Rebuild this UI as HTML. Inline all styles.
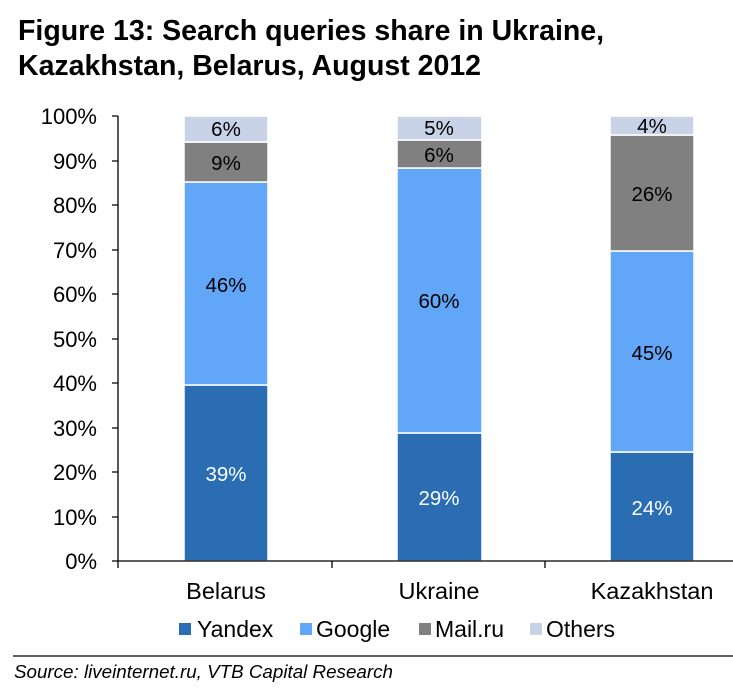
<!DOCTYPE html><html><head><style>body{margin:0;background:#fff;width:733px;height:689px;overflow:hidden;font-family:"Liberation Sans",Arial,sans-serif}</style></head><body>
<svg width="733" height="689" xmlns="http://www.w3.org/2000/svg" font-family="Liberation Sans, Arial, sans-serif">
<text x="18" y="40" font-size="28.5" font-weight="bold" fill="#000">Figure 13: Search queries share in Ukraine,</text>
<text x="18" y="75" font-size="28.5" font-weight="bold" fill="#000">Kazakhstan, Belarus, August 2012</text>
<g font-size="22" fill="#000" text-anchor="end">
<text x="97" y="124">100%</text><text x="97" y="169">90%</text><text x="97" y="213">80%</text><text x="97" y="258">70%</text><text x="97" y="302">60%</text><text x="97" y="347">50%</text><text x="97" y="391">40%</text><text x="97" y="436">30%</text><text x="97" y="480">20%</text><text x="97" y="525">10%</text><text x="97" y="569">0%</text>
</g>
<g stroke="#fff" stroke-width="1.5">
<rect x="184" y="385" width="84" height="176" fill="#2a6db3"/>
<rect x="184" y="182" width="84" height="203" fill="#62a6f8"/>
<rect x="184" y="142" width="84" height="40" fill="#808080"/>
<rect x="184" y="116" width="84" height="26" fill="#c8d3e8"/>
<rect x="397" y="433" width="85" height="128" fill="#2a6db3"/>
<rect x="397" y="168" width="85" height="265" fill="#62a6f8"/>
<rect x="397" y="140" width="85" height="28" fill="#808080"/>
<rect x="397" y="116" width="85" height="24" fill="#c8d3e8"/>
<rect x="610" y="452" width="84" height="109" fill="#2a6db3"/>
<rect x="610" y="251" width="84" height="201" fill="#62a6f8"/>
<rect x="610" y="135" width="84" height="116" fill="#808080"/>
<rect x="610" y="116" width="84" height="19" fill="#c8d3e8"/>
</g>
<g stroke="#000" stroke-width="1.3" fill="none">
<line x1="118" y1="116" x2="118" y2="561"/>
<line x1="118" y1="561" x2="733" y2="561"/>
<path d="M112 116H118M112 161H118M112 205H118M112 250H118M112 294H118M112 339H118M112 383H118M112 428H118M112 472H118M112 517H118M112 561H118"/>
<path d="M118 561V568M332 561V568M545 561V568"/>
</g>
<g font-size="20.5" text-anchor="middle">
<text x="226" y="136" fill="#000">6%</text><text x="226" y="170" fill="#000">9%</text><text x="226" y="292" fill="#000">46%</text><text x="226" y="481" fill="#fff">39%</text>
<text x="439" y="135" fill="#000">5%</text><text x="439" y="162" fill="#000">6%</text><text x="439" y="308" fill="#000">60%</text><text x="439" y="505" fill="#fff">29%</text>
<text x="652" y="133" fill="#000">4%</text><text x="652" y="201" fill="#000">26%</text><text x="652" y="360" fill="#000">45%</text><text x="652" y="515" fill="#fff">24%</text>
</g>
<g font-size="23.5" fill="#000" text-anchor="middle">
<text x="226" y="599">Belarus</text><text x="439" y="599">Ukraine</text><text x="652" y="599">Kazakhstan</text>
</g>
<g font-size="23" fill="#000">
<rect x="179" y="623" width="12" height="12" fill="#2a6db3"/><text x="197" y="637">Yandex</text>
<rect x="300" y="623" width="12" height="12" fill="#62a6f8"/><text x="316" y="637">Google</text>
<rect x="419" y="623" width="12" height="12" fill="#808080"/><text x="435" y="637">Mail.ru</text>
<rect x="530" y="623" width="12" height="12" fill="#c8d3e8"/><text x="546" y="637">Others</text>
</g>
<line x1="13" y1="656" x2="733" y2="656" stroke="#000" stroke-width="1.3"/>
<text x="14" y="678" font-size="18.8" font-style="italic" fill="#000">Source: liveinternet.ru, VTB Capital Research</text>
</svg>
</body></html>
